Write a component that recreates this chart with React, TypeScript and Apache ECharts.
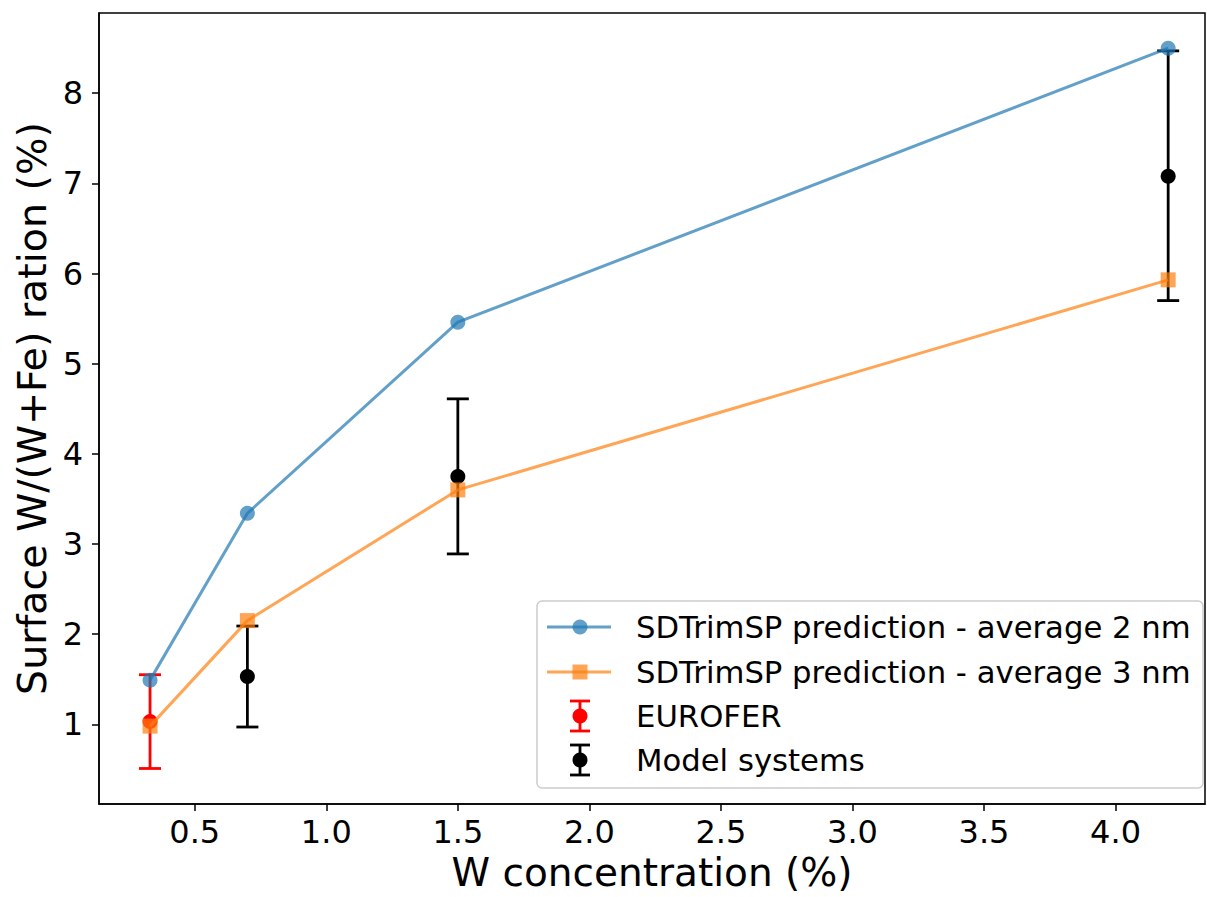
import React, { useEffect, useRef } from "react";
import * as echarts from "echarts";

const xTicks = [0.5, 1.0, 1.5, 2.0, 2.5, 3.0, 3.5, 4.0];
const yTicks = [1, 2, 3, 4, 5, 6, 7, 8];

const wConc = [0.33, 0.7, 1.5, 4.2];
const pred2nm = [1.49, 3.34, 5.46, 8.5];
const pred3nm = [0.98, 2.15, 3.6, 5.93];

const euroferX = [0.33];
const euroferY = [1.03];
const euroferLow = [0.51];
const euroferHigh = [1.55];

const modelX = [0.7, 1.5, 4.2];
const modelY = [1.53, 3.75, 7.08];
const modelLow = [0.97, 2.89, 5.7];
const modelHigh = [2.09, 4.61, 8.47];

const seriesNames = [
  "SDTrimSP prediction - average 2 nm",
  "SDTrimSP prediction - average 3 nm",
  "EUROFER",
  "Model systems",
];

const BLUE = "rgba(31,119,180,0.7)";
const ORANGE = "rgba(255,127,14,0.7)";
const FONT = "DejaVu Sans";

function errorBarRender(color: string) {
  return (params: any, api: any) => {
    const x = api.value(0);
    const p = api.coord([x, api.value(1)]);
    const lo = api.coord([x, api.value(2)]);
    const hi = api.coord([x, api.value(3)]);
    const cap = 11;
    const st = { stroke: color, lineWidth: 2.8 };
    return {
      type: "group",
      children: [
        { type: "line", shape: { x1: lo[0], y1: lo[1], x2: hi[0], y2: hi[1] }, style: st },
        { type: "line", shape: { x1: lo[0] - cap, y1: lo[1], x2: lo[0] + cap, y2: lo[1] }, style: st },
        { type: "line", shape: { x1: hi[0] - cap, y1: hi[1], x2: hi[0] + cap, y2: hi[1] }, style: st },
        { type: "circle", shape: { cx: p[0], cy: p[1], r: 7.5 }, style: { fill: color } },
      ],
    };
  };
}

function legendGraphic() {
  const left = 537;
  const top = 601;
  const rows = [627, 672, 716, 760];
  const lx1 = 547;
  const lx2 = 611;
  const mx = 580;
  const tx = 636;
  const els: any[] = [
    {
      type: "rect",
      shape: { x: left, y: top, width: 666, height: 187, r: 5 },
      style: { fill: "rgba(255,255,255,0.8)", stroke: "#cccccc", lineWidth: 1.5 },
      z: 100,
    },
  ];
  els.push({ type: "line", shape: { x1: lx1, y1: rows[0], x2: lx2, y2: rows[0] }, style: { stroke: BLUE, lineWidth: 3 }, z: 101 });
  els.push({ type: "circle", shape: { cx: mx, cy: rows[0], r: 7.5 }, style: { fill: BLUE }, z: 102 });
  els.push({ type: "line", shape: { x1: lx1, y1: rows[1], x2: lx2, y2: rows[1] }, style: { stroke: ORANGE, lineWidth: 3 }, z: 101 });
  els.push({ type: "rect", shape: { x: mx - 7.5, y: rows[1] - 7.5, width: 15, height: 15 }, style: { fill: ORANGE }, z: 102 });
  const eb = (cy: number, color: string) => {
    const st = { stroke: color, lineWidth: 2.8 };
    els.push({ type: "line", shape: { x1: mx, y1: cy - 15, x2: mx, y2: cy + 15 }, style: st, z: 101 });
    els.push({ type: "line", shape: { x1: mx - 10, y1: cy - 15, x2: mx + 10, y2: cy - 15 }, style: st, z: 101 });
    els.push({ type: "line", shape: { x1: mx - 10, y1: cy + 15, x2: mx + 10, y2: cy + 15 }, style: st, z: 101 });
    els.push({ type: "circle", shape: { cx: mx, cy, r: 7.5 }, style: { fill: color }, z: 102 });
  };
  eb(rows[2], "#ff0000");
  eb(rows[3], "#000000");
  seriesNames.forEach((name, i) => {
    els.push({
      type: "text",
      x: tx,
      y: rows[i],
      style: { text: name, fontSize: 30.7, fontFamily: FONT, fill: "#000", verticalAlign: "middle", align: "left" },
      z: 103,
    });
  });
  return els;
}

export default function App() {
  const ref = useRef<HTMLDivElement>(null);
  useEffect(() => {
    if (!ref.current) return;
    const chart = echarts.init(ref.current, null, { renderer: "svg" });
    const option: any = {
      animation: false,
      backgroundColor: "#ffffff",
      grid: {
        left: 99,
        right: 2,
        top: 13,
        bottom: 93,
        containLabel: false,
        outerBoundsMode: "none",
        show: true,
        borderColor: "#000",
        borderWidth: 1.5,
        backgroundColor: "transparent",
      },
      xAxis: {
        type: "value",
        min: 0.136,
        max: 4.34,
        name: "W concentration (%)",
        nameLocation: "middle",
        nameGap: 49,
        nameTextStyle: { fontSize: 39, lineHeight: 39, fontFamily: FONT, color: "#000" },
        splitLine: { show: false },
        axisLine: { show: true, onZero: false, lineStyle: { color: "#000", width: 1.5 } },
        axisTick: { show: true, length: 7, lineStyle: { color: "#000", width: 1.5 }, customValues: xTicks },
        axisLabel: {
          customValues: xTicks,
          formatter: (v: number) => v.toFixed(1),
          fontSize: 32,
          fontFamily: FONT,
          color: "#000",
          margin: 12,
        },
      },
      yAxis: {
        type: "value",
        min: 0.116,
        max: 8.89,
        name: "Surface W/(W+Fe) ration (%)",
        nameLocation: "middle",
        nameGap: 45,
        nameTextStyle: { fontSize: 39.5, fontFamily: FONT, color: "#000" },
        splitLine: { show: false },
        axisLine: { show: true, onZero: false, lineStyle: { color: "#000", width: 1.5 } },
        axisTick: { show: true, length: 7, lineStyle: { color: "#000", width: 1.5 }, customValues: yTicks },
        axisLabel: {
          customValues: yTicks,
          formatter: (v: number) => String(v),
          fontSize: 32,
          fontFamily: FONT,
          color: "#000",
          margin: 16,
        },
      },
      series: [
        {
          name: seriesNames[0],
          type: "line",
          data: wConc.map((x, i) => [x, pred2nm[i]]),
          symbol: "circle",
          symbolSize: 15,
          lineStyle: { color: "#1f77b4", width: 3, opacity: 0.7 },
          itemStyle: { color: "#1f77b4", opacity: 0.7 },
        },
        {
          name: seriesNames[1],
          type: "line",
          data: wConc.map((x, i) => [x, pred3nm[i]]),
          symbol: "rect",
          symbolSize: 15,
          lineStyle: { color: "#ff7f0e", width: 3, opacity: 0.7 },
          itemStyle: { color: "#ff7f0e", opacity: 0.7 },
        },
        {
          name: seriesNames[2],
          type: "custom",
          renderItem: errorBarRender("#ff0000"),
          encode: { x: 0, y: 1 },
          data: euroferX.map((x, i) => [x, euroferY[i], euroferLow[i], euroferHigh[i]]),
        },
        {
          name: seriesNames[3],
          type: "custom",
          renderItem: errorBarRender("#000000"),
          encode: { x: 0, y: 1 },
          data: modelX.map((x, i) => [x, modelY[i], modelLow[i], modelHigh[i]]),
        },
      ],
      graphic: legendGraphic(),
    };
    chart.setOption(option);
    return () => chart.dispose();
  }, []);
  return (
    <div
      ref={ref}
      style={{ position: "absolute", left: 0, top: 0, width: 1207, height: 897 }}
    />
  );
}
